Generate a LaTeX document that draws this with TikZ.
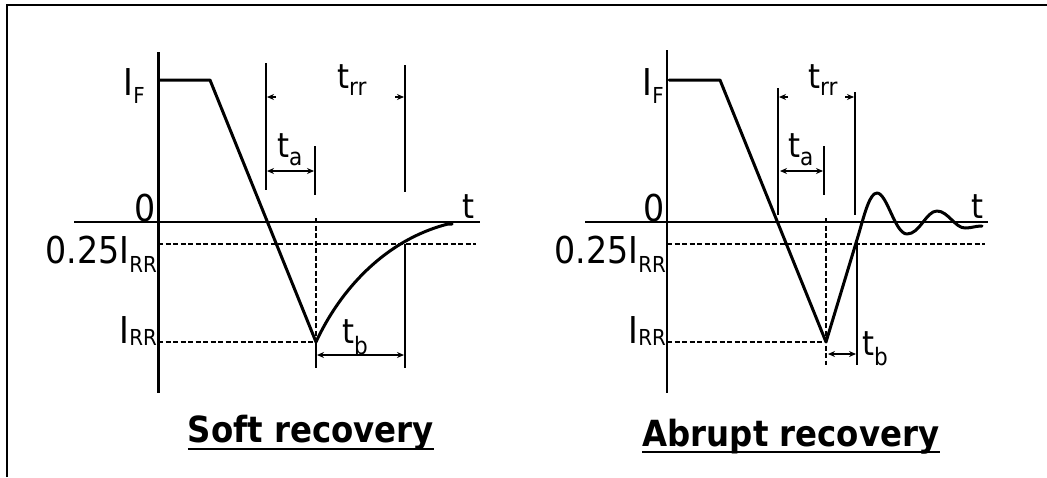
\documentclass[tikz,border=0pt]{standalone}
\usepackage{fontspec}
\newfontfamily\labfont[FakeStretch=0.9]{DejaVu Sans}
\usetikzlibrary{arrows.meta}
\newcommand\sbx[3]{\raisebox{-#1pt}{\fontsize{#2}{#2}\selectfont #3}}
\tikzset{
 frame/.style={line width=2.2pt},
 yaxL/.style={line width=3pt},
 yaxR/.style={line width=2pt},
 xax/.style={line width=1.8pt},
 wave/.style={line width=3pt, line join=round, line cap=round},
 markline/.style={line width=1.6pt},
 guide/.style={line width=1.2pt, dash pattern=on 5pt off 2.5pt},
 dim/.style={line width=1.3pt, {Stealth[length=7pt,width=6pt]}-{Stealth[length=7pt,width=6pt]}},
 stub/.style={line width=1.3pt, -{Stealth[length=7pt,width=6pt]}},
 lab/.style={inner sep=0pt, font=\labfont\fontsize{37}{37}\selectfont},
 tlab/.style={inner sep=0pt, font=\labfont\fontsize{34}{34}\selectfont},
 ttl/.style={inner sep=0pt, font=\labfont\bfseries\fontsize{36}{36}\selectfont},
 uline/.style={line width=2pt},
}
\begin{document}
\begin{tikzpicture}[x=1pt,y=-1pt]
\useasboundingbox (0,0) rectangle (1047,477);
\draw[frame] (7,477) -- (7,5) -- (1047,5);

% ---------------- left: soft recovery ----------------
\coordinate (Lmin) at (316,342);
\draw[yaxL] (158,52) -- (158,393);
\draw[xax] (74,222) -- (480,222);
\draw[guide] (158,244) -- (476,244);
\draw[guide] (158,342) -- (Lmin);
\draw[guide] (316,218) -- (Lmin);
\draw[wave] (160,80) -- (210,80) -- (Lmin) .. controls (340,290) and (385,240) .. (448,224) -- (452,224);

\coordinate (La1) at (266,63);  \coordinate (La2) at (266,190);
\coordinate (Lb1) at (315,146); \coordinate (Lb2) at (315,195);
\coordinate (Lc1) at (405,65);  \coordinate (Lc2) at (405,192);
\coordinate (Ld1) at (405,244); \coordinate (Ld2) at (405,368);
\coordinate (Le2) at (316,368);
\draw[markline] (La1) -- (La2);
\draw[markline] (Lb1) -- (Lb2);
\draw[markline] (Lc1) -- (Lc2);
\draw[markline] (Ld1) -- (Ld2);
\draw[markline] (Lmin) -- (Le2);

\coordinate (Lta1) at (267,171); \coordinate (Lta2) at (314,171);
\coordinate (Ltb1) at (317,355); \coordinate (Ltb2) at (404,355);
\draw[dim] (Lta1) -- (Lta2);
\draw[dim] (Ltb1) -- (Ltb2);
\coordinate (Ls1) at (276,97); \coordinate (Ls2) at (267,97);
\coordinate (Ls3) at (395,97); \coordinate (Ls4) at (404,97);
\draw[stub] (Ls1) -- (Ls2);
\draw[stub] (Ls3) -- (Ls4);

\node[lab, anchor=base east] (lIF) at (145,95) {I\sbx{8}{22}{F}};
\node[lab, anchor=base east] (lzero) at (156,221) {0};
\node[lab, anchor=base east] (lq) at (157,263) {0.25I\sbx{9}{22}{RR}};
\node[lab, anchor=base east] (lIRR) at (157,343) {I\sbx{2}{22}{RR}};
\node[tlab, anchor=base west] (ltrr) at (337,88) {t\sbx{7}{24}{rr}};
\node[tlab, anchor=base west] (lta) at (277,157) {t\sbx{8}{24}{a}};
\node[tlab, anchor=base west] (ltb) at (342,343) {t\sbx{11}{24}{b}};
\node[tlab, anchor=base west] (lt) at (462,218) {t};
\node[ttl, anchor=base] (ltitle) at (311,442) {Soft recovery};
\draw[uline] ([yshift=-7pt]ltitle.base west) -- ([yshift=-7pt]ltitle.base east);

% ---------------- right: abrupt recovery ----------------
\coordinate (Rmin) at (826,342);
\draw[yaxR] (667,50) -- (667,393);
\draw[xax] (585,222) -- (988,222);
\draw[guide] (667,244) -- (985,244);
\draw[guide] (667,342) -- (Rmin);
\draw[guide] (826,218) -- (826,365);
\draw[wave] (669,80) -- (720,80) -- (Rmin) -- (859,233)
  .. controls (865,212) and (870,193) .. (877,193)
  .. controls (887,193) and (895,234) .. (907,234)
  .. controls (920,234) and (926,211) .. (937,211)
  .. controls (948,211) and (955,228) .. (965,228)
  .. controls (972,228) and (975,226) .. (982,226);

\coordinate (Ra1) at (778,88);  \coordinate (Ra2) at (778,215);
\coordinate (Rb1) at (824,146); \coordinate (Rb2) at (824,195);
\coordinate (Rc1) at (855,92);  \coordinate (Rc2) at (855,215);
\coordinate (Rd1) at (857,240); \coordinate (Rd2) at (857,365);
\draw[markline] (Ra1) -- (Ra2);
\draw[markline] (Rb1) -- (Rb2);
\draw[markline] (Rc1) -- (Rc2);
\draw[markline] (Rd1) -- (Rd2);

\coordinate (Rta1) at (780,171); \coordinate (Rta2) at (823,171);
\coordinate (Rtb1) at (828,354); \coordinate (Rtb2) at (856,354);
\draw[dim] (Rta1) -- (Rta2);
\draw[dim] (Rtb1) -- (Rtb2);
\coordinate (Rs1) at (788,97); \coordinate (Rs2) at (779,97);
\coordinate (Rs3) at (845,97); \coordinate (Rs4) at (854,97);
\draw[stub] (Rs1) -- (Rs2);
\draw[stub] (Rs3) -- (Rs4);

\node[lab, anchor=base east] (rIF) at (664,95) {I\sbx{8}{22}{F}};
\node[lab, anchor=base east] (rzero) at (665,221) {0};
\node[lab, anchor=base east] (rq) at (666,263) {0.25I\sbx{9}{22}{RR}};
\node[lab, anchor=base east] (rIRR) at (666,343) {I\sbx{2}{22}{RR}};
\node[tlab, anchor=base west] (rtrr) at (808,88) {t\sbx{7}{24}{rr}};
\node[tlab, anchor=base west] (rta) at (788,157) {t\sbx{8}{24}{a}};
\node[tlab, anchor=base west] (rtb) at (862,355) {t\sbx{10}{24}{b}};
\node[tlab, anchor=base west] (rt) at (971,218) {t};
\node[ttl, anchor=base] (rtitle) at (791,446) {Abrupt recovery};
\draw[uline] ([yshift=-6pt]rtitle.base west) -- ([yshift=-6pt]rtitle.base east);
\end{tikzpicture}
\end{document}
